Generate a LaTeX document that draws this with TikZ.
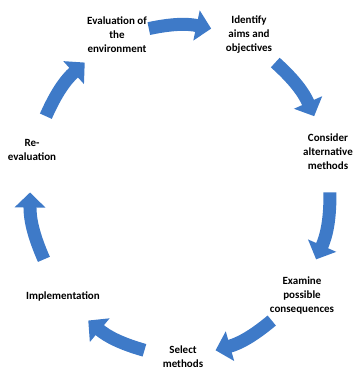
\documentclass[tikz,border=0pt]{standalone}
\usepackage{fontspec}
\setmainfont{Carlito}
\usepackage{xcolor}
\usetikzlibrary{positioning,calc,arrows.meta}

\definecolor{cycleblue}{RGB}{62,122,200}

\begin{document}
\begin{tikzpicture}[
    x=1pt, y=1pt,
    stage/.style={align=center, font=\fontsize{11}{14}\selectfont\bfseries, inner sep=1pt},
    cyclearrow/.style={draw=cycleblue, line width=13pt, -{Triangle[width=30pt, length=15pt]}, cycleblue}
]
\useasboundingbox (0,0) rectangle (357,371);
\coordinate (ctr) at (180,181);

% stages
\node[stage] (evalenv) at (117,336) {Evaluation of\\the\\environment};
\node[stage] (identify) at (249,336) {Identify\\aims and\\objectives};
\node[stage] (consider) at (328,219) {Consider\\alternative\\methods};
\node[stage] (examine) at (302,75) {Examine\\possible\\consequences};
\node[stage] (select) at (183,14) {Select\\methods};
\node[stage] (implement) at (63,75) {Implementation};
\node[stage] (reeval) at (32,221) {Re-\\evaluation};

% arrow ends, on the ellipse between two stages
\foreach \i/\m in {1/90, 2/38.57, 3/-12.86, 4/-64.29, 5/244.29, 6/192.86, 7/141.43} {
    \coordinate (s\i) at ($(ctr)+({\m+12}:150 and 165)$);
    \coordinate (e\i) at ($(ctr)+({\m-12}:150 and 165)$);
}

% clockwise cycle
\foreach \i in {1,...,7}
    \draw[cyclearrow] (s\i) to[bend left=12] (e\i);
\end{tikzpicture}
\end{document}
